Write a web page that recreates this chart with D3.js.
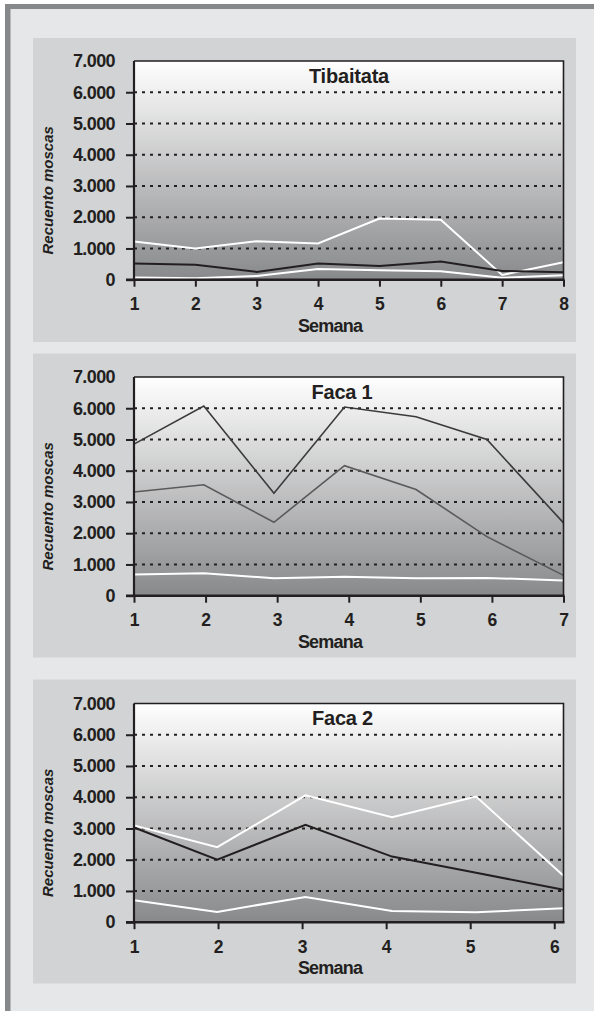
<!DOCTYPE html>
<html>
<head>
<meta charset="utf-8">
<script src="https://cdn.jsdelivr.net/npm/d3@7"></script>
<style>
  html, body { margin: 0; padding: 0; background: #ffffff; }
  svg { display: block; }
  text { font-family: "Liberation Sans", Arial, Helvetica, sans-serif; fill: #231f20; }
</style>
</head>
<body>
<svg id="fig" width="594" height="1011"></svg>
<script>
// Weekly fly counts per site
const yTicks = [0, 1000, 2000, 3000, 4000, 5000, 6000, 7000];

const weeksTib = [1, 2, 3, 4, 5, 6, 7, 8];
const xTicksTib = [1, 2, 3, 4, 5, 6, 7, 8];
const tibHigh = [1220, 1000, 1230, 1160, 1960, 1920, 150, 560];
const tibMid  = [520, 480, 250, 520, 440, 580, 280, 240];
const tibLow  = [70, 50, 120, 340, 300, 270, 60, 140];

const weeksF1 = [1, 1.975, 2.955, 3.94, 4.94, 5.93, 7];
const xTicksF1 = [1, 2, 3, 4, 5, 6, 7];
const f1High = [4850, 6070, 3280, 6040, 5730, 5000, 2330];
const f1Mid  = [3320, 3550, 2350, 4160, 3400, 1890, 650];
const f1Low  = [680, 720, 560, 610, 560, 570, 490];

const weeksF2 = [1, 1.99, 3.04, 4.07, 5.07, 6.11];
const xTicksF2 = [1, 2, 3, 4, 5, 6];
const f2High = [3100, 2400, 4060, 3360, 4020, 1490];
const f2Mid  = [3030, 2000, 3120, 2100, 1580, 1040];
const f2Low  = [700, 330, 810, 360, 320, 450];

const titles = ["Tibaitata", "Faca 1", "Faca 2"];
const yLabel = "Recuento moscas";
const xLabel = "Semana";

const ink = "#231f20";
const fmt = d3.formatLocale({ decimal: ",", thousands: ".", grouping: [3], currency: ["", ""] }).format(",");

const charts = [
  { title: titles[0], weeks: weeksTib, xMax: 8, xTicks: xTicksTib,
    series: [ { v: tibHigh, c: "#ffffff", w: 2 }, { v: tibMid, c: ink, w: 2 }, { v: tibLow, c: "#ffffff", w: 2 } ],
    panelTop: 38, plotTop: 61, titleX: 349 },
  { title: titles[1], weeks: weeksF1, xMax: 7, xTicks: xTicksF1,
    series: [ { v: f1High, c: "#3a3a3c", w: 1.6 }, { v: f1Mid, c: "#5a5a5c", w: 1.6 }, { v: f1Low, c: "#ffffff", w: 2 } ],
    panelTop: 353.5, plotTop: 377, titleX: 342 },
  { title: titles[2], weeks: weeksF2, xMax: 6.11, xTicks: xTicksF2,
    series: [ { v: f2High, c: "#ffffff", w: 2 }, { v: f2Mid, c: ink, w: 2 }, { v: f2Low, c: "#ffffff", w: 2 } ],
    panelTop: 679.5, plotTop: 703.5, titleX: 342.5 }
];

const svg = d3.select("#fig");

// page frame
svg.append("rect").attr("x", 0).attr("y", 0).attr("width", 594).attr("height", 1011).attr("fill", "#ffffff");
svg.append("rect").attr("x", 5).attr("y", 4).attr("width", 589).attr("height", 1007).attr("fill", "#87888a");
svg.append("rect").attr("x", 10.5).attr("y", 9).attr("width", 583.5).attr("height", 1002).attr("fill", "#e6e7e8");

// plot-area shading
const defs = svg.append("defs");
const grad = defs.append("linearGradient").attr("id", "plotShade")
  .attr("x1", 0).attr("y1", 0).attr("x2", 0).attr("y2", 1);
grad.append("stop").attr("offset", "0%").attr("stop-color", "#ffffff");
grad.append("stop").attr("offset", "100%").attr("stop-color", "#88898b");

const plotLeft = 134, plotRight = 563.5, plotH = 218.7;
const panelX = 33, panelW = 543, panelH = 304;

charts.forEach(ch => {
  const g = svg.append("g");
  const top = ch.plotTop, bottom = top + plotH;

  g.append("rect").attr("x", panelX).attr("y", ch.panelTop)
    .attr("width", panelW).attr("height", panelH).attr("fill", "#d1d3d4");

  const x = d3.scaleLinear().domain([1, ch.xMax]).range([plotLeft, plotRight]);
  const y = d3.scaleLinear().domain([0, 7000]).range([bottom, top]);

  g.append("rect").attr("x", plotLeft).attr("y", top)
    .attr("width", plotRight - plotLeft).attr("height", plotH)
    .attr("fill", "url(#plotShade)");

  // dotted gridlines
  g.append("g").selectAll("line")
    .data(yTicks.filter(d => d > 0 && d < 7000))
    .join("line")
    .attr("x1", plotLeft).attr("x2", plotRight)
    .attr("y1", d => y(d)).attr("y2", d => y(d))
    .attr("stroke", ink).attr("stroke-width", 2)
    .attr("stroke-dasharray", "3,5");

  // series
  const line = d3.line().x((d, i) => x(ch.weeks[i])).y(d => y(d));
  ch.series.forEach(s => {
    g.append("path").datum(s.v).attr("d", line)
      .attr("fill", "none").attr("stroke", s.c).attr("stroke-width", s.w)
      .attr("stroke-linejoin", "miter");
  });

  // frame: top and right
  g.append("path")
    .attr("d", `M${plotLeft},${top}H${plotRight}V${bottom}`)
    .attr("fill", "none").attr("stroke", ink).attr("stroke-width", 1.6);

  // y axis
  const ya = g.append("g").attr("transform", `translate(${plotLeft},0)`)
    .call(d3.axisLeft(y).tickValues(yTicks).tickSize(8).tickPadding(11).tickFormat(fmt));
  ya.select(".domain").remove();
  ya.selectAll(".tick line").attr("stroke", ink).attr("stroke-width", 2)
    .attr("opacity", d => d === 7000 ? 0 : 1);
  ya.selectAll(".tick text").attr("font-size", 18).attr("font-weight", "bold")
    .attr("letter-spacing", "-0.6px").attr("fill", ink).attr("font-family", null);
  g.append("line").attr("x1", plotLeft).attr("x2", plotLeft)
    .attr("y1", top).attr("y2", bottom)
    .attr("stroke", ink).attr("stroke-width", 2.2);

  // x axis
  const xa = g.append("g").attr("transform", `translate(0,${bottom})`)
    .call(d3.axisBottom(x).tickValues(ch.xTicks).tickSize(7).tickPadding(11).tickFormat(d3.format("d")));
  xa.select(".domain").remove();
  xa.selectAll(".tick line").attr("stroke", ink).attr("stroke-width", 2);
  xa.selectAll(".tick text").attr("font-size", 17.5).attr("font-weight", "bold")
    .attr("fill", ink).attr("font-family", null);
  g.append("line").attr("x1", plotLeft - 8).attr("x2", plotRight + 1)
    .attr("y1", bottom).attr("y2", bottom)
    .attr("stroke", ink).attr("stroke-width", 2.6);

  // title
  g.append("text").attr("x", ch.titleX).attr("y", top + 21.5)
    .attr("text-anchor", "middle").attr("font-size", 20).attr("font-weight", "bold")
    .attr("letter-spacing", "-0.2px")
    .text(ch.title);

  // axis titles
  g.append("text").attr("x", 330).attr("y", bottom + 52)
    .attr("text-anchor", "middle").attr("font-size", 18).attr("font-weight", "bold")
    .attr("letter-spacing", "-0.8px")
    .text(xLabel);

  g.append("text")
    .attr("transform", `translate(53,${(top + bottom) / 2 + 20}) rotate(-90)`)
    .attr("text-anchor", "middle").attr("font-size", 15).attr("font-weight", "bold")
    .attr("font-style", "italic")
    .text(yLabel);
});
</script>
</body>
</html>
